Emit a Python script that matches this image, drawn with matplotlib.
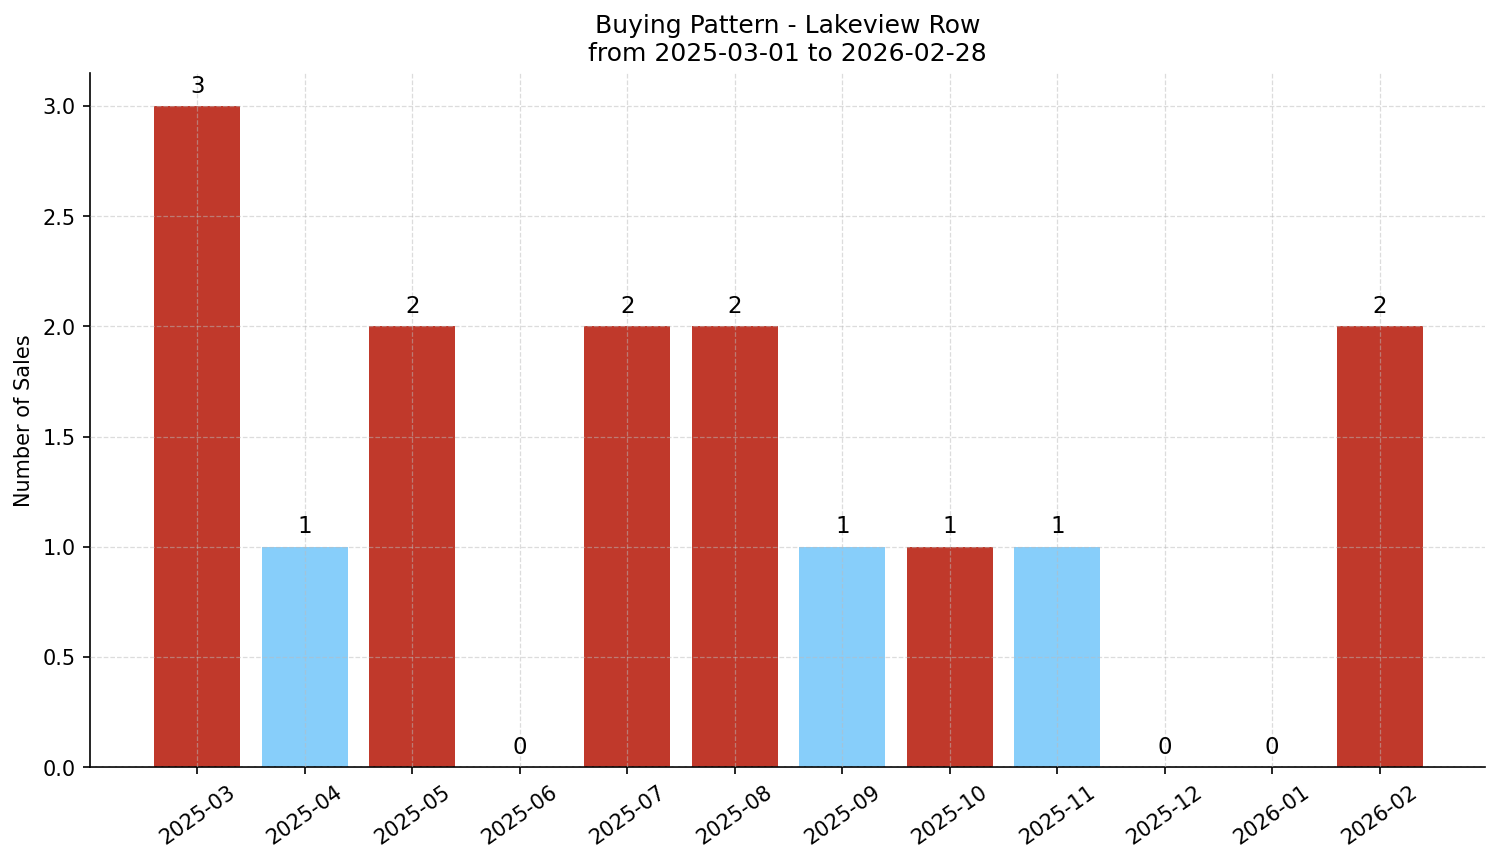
import matplotlib
matplotlib.use("Agg")
import matplotlib.pyplot as plt

months = ["2025-03", "2025-04", "2025-05", "2025-06", "2025-07", "2025-08",
          "2025-09", "2025-10", "2025-11", "2025-12", "2026-01", "2026-02"]
sales = [3, 1, 2, 0, 2, 2, 1, 1, 1, 0, 0, 2]
RED = "#c0392b"
BLUE = "#87cefa"
bar_colors = [RED, BLUE, RED, RED, RED, RED, BLUE, RED, BLUE, RED, RED, RED]

fig, ax = plt.subplots(figsize=(10.0, 5.75), dpi=150)
x = list(range(len(months)))
bars = ax.bar(x, sales, color=bar_colors, width=0.8)
for xi, v in zip(x, sales):
    ax.text(xi, v + 0.04, str(v), ha="center", va="bottom", fontsize=11)

ax.set_xticks(x)
ax.set_xticklabels(months, rotation=35)
ax.set_ylabel("Number of Sales")
ax.set_title("Buying Pattern - Lakeview Row\nfrom 2025-03-01 to 2026-02-28", fontsize=12)
ax.set_ylim(0, 3.15)
ax.set_xlim(-1.0, 11.98)
ax.set_axisbelow(False)
ax.grid(True, linestyle="--", alpha=0.5, color="#bbbbbb", linewidth=0.6)
ax.spines["top"].set_visible(False)
ax.spines["right"].set_visible(False)
fig.subplots_adjust(left=0.06, right=0.99, top=0.915, bottom=0.11)
fig.savefig("out.png", dpi=150)
